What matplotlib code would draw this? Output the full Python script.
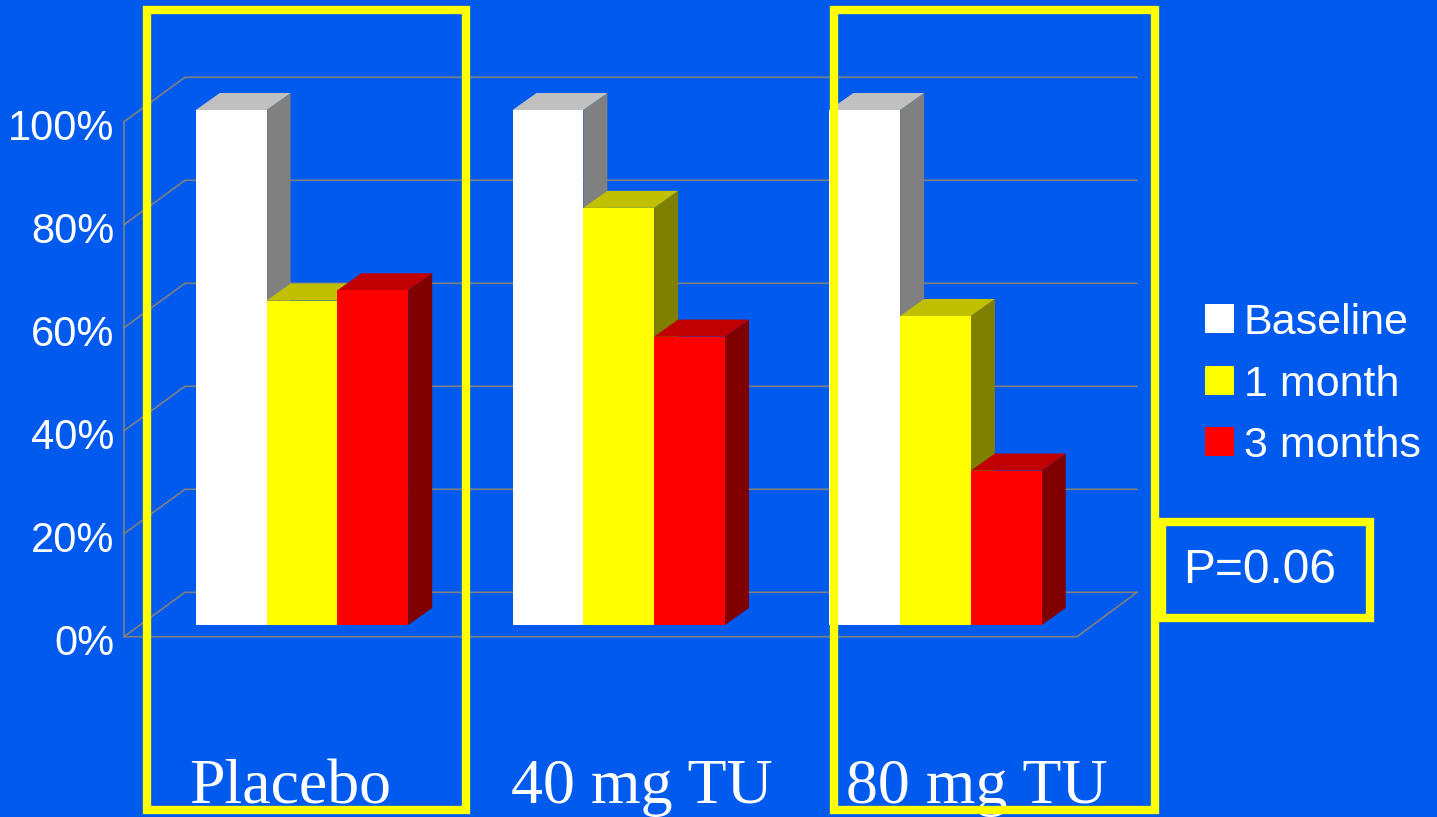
import matplotlib
matplotlib.use("Agg")
import matplotlib.pyplot as plt
from matplotlib.patches import Rectangle, Polygon

groups = ["Placebo", "40 mg TU", "80 mg TU"]
series = ["Baseline", "1 month", "3 months"]
baseline = [100, 100, 100]
one_month = [63, 81, 60]
three_months = [65, 56, 30]
ticks = [0, 20, 40, 60, 80, 100]

face_colors = ["#FFFFFF", "#FFFF00", "#FF0000"]
top_colors = ["#C0C0C0", "#C0C000", "#C00000"]
side_colors = ["#808080", "#808000", "#800000"]
bg = "#005AEE"

W, H = 1437, 817
fig = plt.figure(figsize=(W / 100, H / 100), dpi=100, facecolor=bg)
ax = fig.add_axes([0, 0, 1, 1])
ax.set_facecolor(bg)
ax.axis("off")

# one x unit = one group (316.75 px), one y unit = 1 % (5.15 px)
xu, yu = 316.75, 5.15
x0_px, y0_px = 302, 625
ax.set_xlim(-x0_px / xu, (W - x0_px) / xu)
ax.set_ylim((y0_px - H) / yu, y0_px / yu)


def px(x, y):
    return x / W, 1 - y / H


# box of the 3d plot
fl, bl = (124 - x0_px) / xu, (185 - x0_px) / xu
fr, br = (1077 - x0_px) / xu, (1137 - x0_px) / xu
f_off, b_off = -2.27, 6.35
grid = dict(color="#808080", lw=1.2, zorder=1)
for t in ticks:
    ax.plot([fl, bl, br], [t + f_off, t + b_off, t + b_off], **grid)
ax.plot([fl, fl], [f_off, 100 + f_off], **grid)
ax.plot([fl, fr, br], [f_off, f_off, b_off], **grid)

for t in ticks:
    ax.text((114 - x0_px) / xu, t - 5.9, f"{t}%", ha="right", va="baseline",
            color="white", fontsize=30, family="Liberation Sans")

# bars with a little depth
bw = 0.2235
dx, dy = 24 / xu, 17 / yu
values = [baseline, one_month, three_months]
for g in range(len(groups)):
    for s in range(len(series)):
        x = g + (s - 1.5) * bw
        h = values[s][g]
        ax.add_patch(Polygon([(x + bw, 0), (x + bw + dx, dy), (x + bw + dx, h + dy), (x + bw, h)],
                             closed=True, fc=side_colors[s], ec="none", zorder=2))
        ax.add_patch(Polygon([(x, h), (x + bw, h), (x + bw + dx, h + dy), (x + dx, h + dy)],
                             closed=True, fc=top_colors[s], ec="none", zorder=2))
        ax.add_patch(Rectangle((x, 0), bw, h, fc=face_colors[s], ec="none", zorder=2))

# group labels
label_x = [189, 511, 846]
for name, lx in zip(groups, label_x):
    fig.text(*px(lx, 803), name, ha="left", va="baseline", color="white",
             fontsize=46, family="Liberation Serif")

# highlight frames
for (x1, y1, x2, y2) in [(146.5, 10, 466, 809.5), (833.5, 10, 1154.5, 809.5), (1161.5, 521.5, 1370, 618)]:
    fx, fy = px(x1, y2)
    fig.add_artist(Rectangle((fx, fy), (x2 - x1) / W, (y2 - y1) / H, transform=fig.transFigure,
                             fill=False, ec="#FFFF00", lw=6, zorder=5))

fig.text(*px(1183, 583), "P=0.06", ha="left", va="baseline", color="white",
         fontsize=34.5, family="Liberation Sans")

# legend
for i, name in enumerate(series):
    top = 304 + i * 61.5
    fx, fy = px(1205, top + 29)
    fig.add_artist(Rectangle((fx, fy), 29 / W, 29 / H, transform=fig.transFigure,
                             fc=face_colors[i], ec="none"))
    fig.text(*px(1243.5, 334 + i * 61.5), name, ha="left", va="baseline", color="white",
             fontsize=31, family="Liberation Sans")

fig.savefig("out.png", dpi=100, facecolor=bg)
